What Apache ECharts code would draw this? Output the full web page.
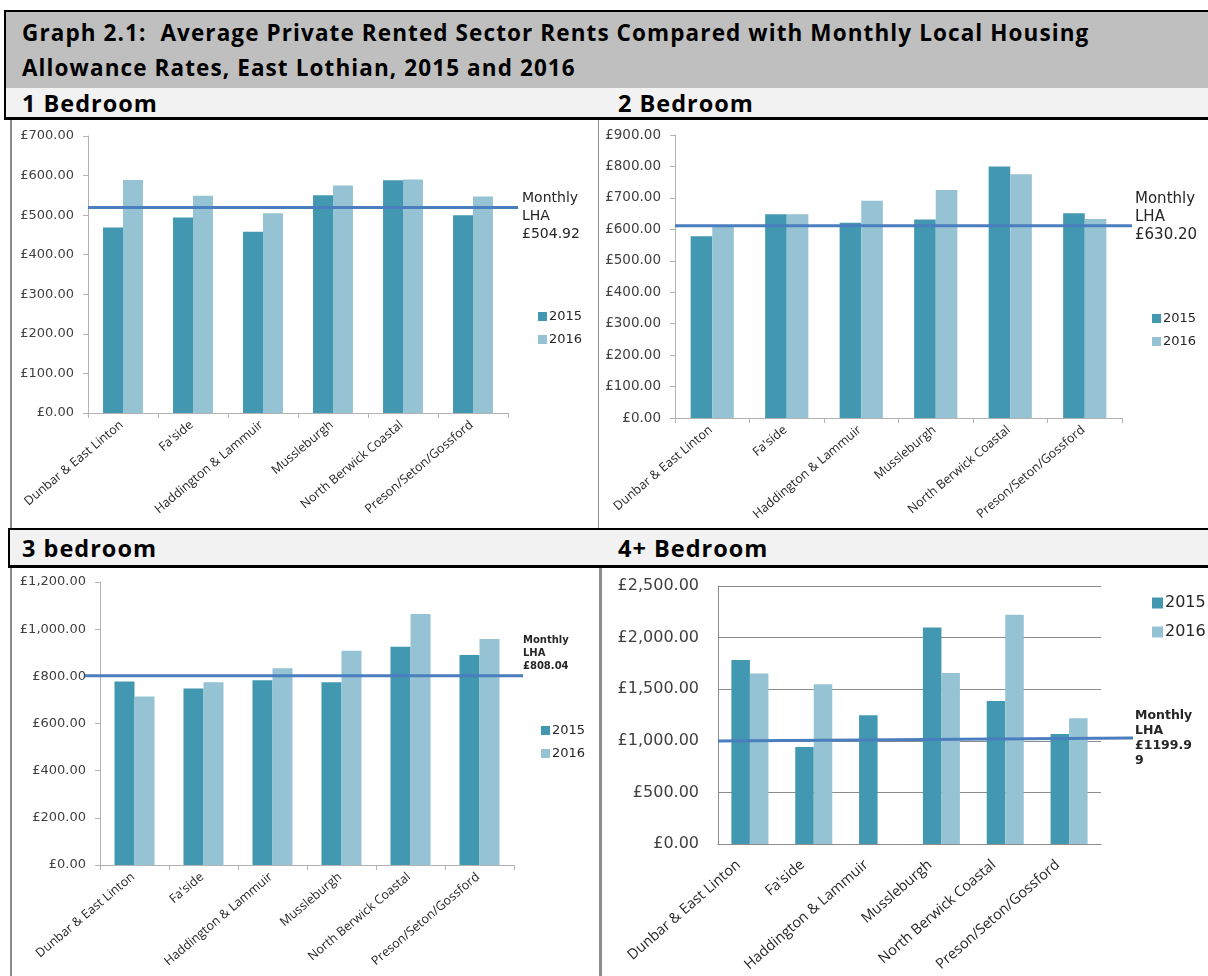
<!DOCTYPE html>
<html>
<head>
<meta charset="utf-8">
<script src="https://cdn.jsdelivr.net/npm/echarts@6/dist/echarts.min.js"></script>
<style>
  html, body { margin: 0; padding: 0; background: #fff; }
  body { width: 1208px; height: 976px; position: relative; overflow: hidden; font-family: "Open Sans", Lato, sans-serif; }
  .box { position: absolute; box-sizing: border-box; }
  .hdr { font-weight: bold; color: #000; position: absolute; white-space: nowrap; }
  .panel { position: absolute; }
</style>
</head>
<body>
<div class="box" style="left:4px;top:10px;width:1210px;height:80px;background:#bfbfbf;border-top:2px solid #000;border-left:2px solid #000;border-bottom:2px solid #000;"></div>
<div class="hdr" style="left:22px;top:15px;font-size:22.5px;line-height:35px;letter-spacing:1.1px;">Graph 2.1:&nbsp; Average Private Rented Sector Rents Compared with Monthly Local Housing<br>Allowance Rates, East Lothian, 2015 and 2016</div>
<div class="box" style="left:4px;top:88px;width:1210px;height:32px;background:#f2f2f2;border-left:2px solid #000;border-bottom:3px solid #000;"></div>
<div class="hdr" style="left:22px;top:88px;font-size:23.5px;line-height:30px;letter-spacing:1px;">1 Bedroom</div>
<div class="hdr" style="left:618px;top:88px;font-size:23.5px;line-height:30px;letter-spacing:1px;">2 Bedroom</div>

<div class="box" style="left:10px;top:120px;width:589px;height:410px;border-left:2px solid #8c8c8c;border-right:1px solid #8c8c8c;"></div>
<div class="box" style="left:8px;top:528px;width:1206px;height:40px;background:#f2f2f2;border-top:2px solid #000;border-left:2px solid #000;border-bottom:3px solid #000;"></div>
<div class="hdr" style="left:22px;top:531px;font-size:23.5px;line-height:34px;letter-spacing:1px;">3 bedroom</div>
<div class="hdr" style="left:618px;top:531px;font-size:23.5px;line-height:34px;letter-spacing:1px;">4+ Bedroom</div>
<div class="box" style="left:10px;top:568px;width:2px;height:408px;background:#8c8c8c;"></div>
<div class="box" style="left:599px;top:568px;width:3px;height:408px;background:#8c8c8c;"></div>

<div id="c1" class="panel" style="left:12px;top:121px;width:586px;height:406px;"></div>
<div id="c2" class="panel" style="left:600px;top:121px;width:608px;height:406px;"></div>
<div id="c3" class="panel" style="left:12px;top:569px;width:586px;height:407px;"></div>
<div id="c4" class="panel" style="left:602px;top:569px;width:606px;height:407px;"></div>

<script>
// ---- data ----
const categories = ['Dunbar & East Linton', "Fa'side", 'Haddington & Lammuir', 'Mussleburgh', 'North Berwick Coastal', 'Preson/Seton/Gossford'];
const seriesNames = ['2015', '2016'];

const bed1_2015 = [469, 494, 458, 550, 588, 500];
const bed1_2016 = [589, 549, 505, 575, 590, 547];
const bed1_lha = [519, 519];
const bed1_lhaLabel = 'Monthly\nLHA\n£504.92';
const bed1_ticks = [0, 700, 100];

const bed2_2015 = [578, 648, 621, 631, 800, 651];
const bed2_2016 = [609, 648, 691, 725, 775, 633];
const bed2_lha = [611, 611];
const bed2_lhaLabel = 'Monthly\nLHA\n£630.20';
const bed2_ticks = [0, 900, 100];

const bed3_2015 = [778, 748, 783, 775, 925, 890];
const bed3_2016 = [714, 775, 834, 908, 1064, 958];
const bed3_lha = [803, 803];
const bed3_lhaLabel = 'Monthly\nLHA\n£808.04';
const bed3_ticks = [0, 1200, 200];

const bed4_2015 = [1784, 939, 1247, 2098, 1386, 1065];
const bed4_2016 = [1652, 1548, null, 1658, 2221, 1218];
const bed4_lha = [997, 1026];
const bed4_lhaLabel = 'Monthly\nLHA\n£1199.9\n9';
const bed4_ticks = [0, 2500, 500];

// ---- style ----
const C2015 = '#4298b0';
const C2016 = '#95c3d4';
const CLHA = '#4a7ebf';

function fmt(v) {
  return '£' + Number(v).toLocaleString('en-GB', { minimumFractionDigits: 2, maximumFractionDigits: 2 });
}

function makePanel(id, d15, d16, lha, lhaLabel, ticks, cfg) {
  const chart = echarts.init(document.getElementById(id), null, { renderer: 'canvas' });
  const [ymin, ymax, yint] = ticks;
  const option = {
    animation: false,
    textStyle: { fontFamily: 'DejaVu Sans' },
    legend: {
      data: seriesNames,
      orient: 'vertical',
      left: cfg.legend.left, top: cfg.legend.top,
      itemWidth: cfg.legend.size, itemHeight: cfg.legend.size,
      itemGap: cfg.legend.gap,
      icon: 'rect',
      textStyle: { fontFamily: 'DejaVu Sans', fontSize: cfg.legend.font, color: '#262626', padding: [0, 0, 0, -3] }
    },
    grid: [
      { left: cfg.grid.left, right: cfg.grid.right, top: cfg.grid.top, bottom: cfg.grid.bottom },
      { left: cfg.lhaGrid.left, right: cfg.lhaGrid.right, top: cfg.grid.top, bottom: cfg.grid.bottom }
    ],
    xAxis: [
      {
        type: 'category', data: categories, gridIndex: 0,
        axisLine: { lineStyle: { color: cfg.axisColor, width: 1 } },
        axisTick: { show: cfg.xTicks, length: 5, lineStyle: { color: cfg.axisColor } },
        axisLabel: { interval: 0, rotate: cfg.xLabel.rotate, margin: cfg.xLabel.margin, padding: [0, cfg.xLabel.shift, 0, 0],
          fontFamily: 'Open Sans', fontSize: cfg.xLabel.font, color: '#262626' }
      },
      { type: 'value', gridIndex: 1, min: 0, max: 1, show: false }
    ],
    yAxis: [
      {
        type: 'value', gridIndex: 0, min: ymin, max: ymax, interval: yint,
        axisLine: { show: true, lineStyle: { color: cfg.axisColor, width: 1 } },
        axisTick: { show: cfg.yTicks, length: 5, lineStyle: { color: cfg.axisColor } },
        splitLine: { show: cfg.split, lineStyle: { color: '#8c8c8c', width: 1 } },
        axisLabel: { formatter: fmt, fontFamily: 'DejaVu Sans', fontSize: cfg.yLabel.font, color: '#404040', margin: cfg.yLabel.margin }
      },
      { type: 'value', gridIndex: 1, min: ymin, max: ymax, show: false }
    ],
    series: [
      { name: '2015', type: 'bar', data: d15, xAxisIndex: 0, yAxisIndex: 0, barGap: '0%', barCategoryGap: cfg.catGap,
        itemStyle: { color: C2015 } },
      { name: '2016', type: 'bar', data: d16, xAxisIndex: 0, yAxisIndex: 0,
        itemStyle: { color: C2016 } },
      { name: 'LHA', type: 'line', xAxisIndex: 1, yAxisIndex: 1, data: [[0, lha[0]], [1, lha[1]]],
        symbol: 'none', silent: true, z: 5,
        lineStyle: { color: CLHA, width: 3 },
        endLabel: { show: true, formatter: lhaLabel, offset: cfg.lhaLabel.offset, align: 'left', verticalAlign: 'middle',
          fontFamily: 'DejaVu Sans', fontWeight: cfg.lhaLabel.weight, fontSize: cfg.lhaLabel.font, lineHeight: cfg.lhaLabel.lh, color: '#262626' } }
    ]
  };
  chart.setOption(option);
  return chart;
}

// panel 1 (div at x=12, y=121)
makePanel('c1', bed1_2015, bed1_2016, bed1_lha, bed1_lhaLabel, bed1_ticks, {
  grid: { left: 76, right: 90, top: 15, bottom: 114 },
  lhaGrid: { left: 76, right: 80 },
  legend: { left: 521, top: 184, size: 9, gap: 10, font: 13 },
  xLabel: { font: 12.5, margin: 9, rotate: 40, shift: 2 },
  yLabel: { font: 13, margin: 14 },
  lhaLabel: { offset: [-4, 9], weight: 'normal', font: 14, lh: 18 },
  axisColor: '#b3b3b3',
  catGap: '43%', xTicks: true, yTicks: true, split: false
});

// panel 2 (div at x=600, y=121)
makePanel('c2', bed2_2015, bed2_2016, bed2_lha, bed2_lhaLabel, bed2_ticks, {
  grid: { left: 75, right: 86, top: 14, bottom: 109 },
  lhaGrid: { left: 75, right: 76 },
  legend: { left: 547, top: 186, size: 9, gap: 10, font: 13 },
  xLabel: { font: 12.5, margin: 9, rotate: 40, shift: 2 },
  yLabel: { font: 13.5, margin: 14 },
  lhaLabel: { offset: [-5, -9], weight: 'normal', font: 15, lh: 18 },
  axisColor: '#b3b3b3',
  catGap: '42%', xTicks: true, yTicks: true, split: false
});

// panel 3 (div at x=12, y=569)
makePanel('c3', bed3_2015, bed3_2016, bed3_lha, bed3_lhaLabel, bed3_ticks, {
  grid: { left: 88, right: 84, top: 13, bottom: 111 },
  lhaGrid: { left: 73, right: 75 },
  legend: { left: 524, top: 150, size: 9, gap: 10, font: 13 },
  xLabel: { font: 12.5, margin: 9, rotate: 40, shift: 2 },
  yLabel: { font: 13, margin: 14 },
  lhaLabel: { offset: [-8, -22], weight: 'bold', font: 10, lh: 13 },
  axisColor: '#b3b3b3',
  catGap: '42%', xTicks: true, yTicks: true, split: false
});

// panel 4 (div at x=602, y=569)
makePanel('c4', bed4_2015, bed4_2016, bed4_lha, bed4_lhaLabel, bed4_ticks, {
  grid: { left: 116, right: 107, top: 17, bottom: 132 },
  lhaGrid: { left: 116, right: 75 },
  legend: { left: 545, top: 21, size: 11, gap: 13, font: 16 },
  xLabel: { font: 14.5, margin: 9, rotate: 41, shift: 15 },
  yLabel: { font: 16, margin: 19 },
  lhaLabel: { offset: [-6, 0], weight: 'bold', font: 12.5, lh: 15 },
  axisColor: '#8c8c8c',
  catGap: '42%', xTicks: false, yTicks: false, split: true
});
</script>
</body>
</html>
